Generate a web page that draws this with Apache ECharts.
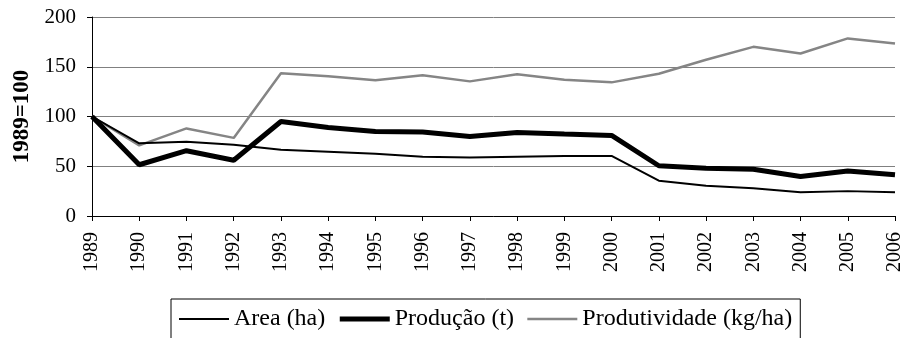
<!DOCTYPE html>
<html>
<head>
<meta charset="utf-8">
<script src="https://cdn.jsdelivr.net/npm/echarts@6/dist/echarts.min.js"></script>
<style>
  html, body { margin: 0; padding: 0; background: #fff; }
  #chart { width: 905px; height: 338px; }
</style>
</head>
<body>
<div id="chart"></div>
<script>
// Index series, base year 1989 = 100
const years = ['1989','1990','1991','1992','1993','1994','1995','1996','1997','1998',
               '1999','2000','2001','2002','2003','2004','2005','2006'];
const area = [100, 73, 74.5, 71.5, 66.5, 64.5, 62.5, 59.5, 58.8, 59.6, 60.4, 60.4, 35.5, 30.5, 28, 23.8, 25, 23.8];
const producao = [100, 51.5, 65.6, 56, 95, 89, 85, 84.5, 80, 84, 82.3, 81, 50.5, 48, 47, 39.7, 45.3, 41.5];
const produtividade = [100, 71, 88, 78.5, 143.5, 140.5, 136.5, 141.5, 135.3, 142.5, 137, 134.3, 143, 157, 170, 163.3, 178.5, 173.3];
const yTicks = [0, 50, 100, 150, 200];

const serif = '"Liberation Serif", "Times New Roman", serif';
const chart = echarts.init(document.getElementById('chart'));

chart.setOption({
  animation: false,
  backgroundColor: '#fff',
  grid: { left: 92, right: 10, top: 17, bottom: 122 },
  legend: {
    left: 171,
    top: 299,
    padding: [8, 8, 14, 7],
    borderColor: '#000',
    borderWidth: 1,
    itemWidth: 50,
    itemHeight: 12,
    itemGap: 12,
    itemStyle: { opacity: 0 },
    textStyle: { fontFamily: serif, fontSize: 24, color: '#000' },
    data: [
      { name: 'Area (ha)', lineStyle: { width: 2, color: '#000' } },
      { name: 'Produção (t)', lineStyle: { width: 5, color: '#000' } },
      { name: 'Produtividade (kg/ha)', lineStyle: { width: 2.5, color: '#858585' } }
    ]
  },
  xAxis: {
    type: 'category',
    data: years,
    boundaryGap: false,
    axisLine: { lineStyle: { color: '#000', width: 1 } },
    axisTick: { alignWithLabel: true, length: 5, lineStyle: { color: '#000' } },
    axisLabel: {
      rotate: 90,
      margin: 16,
      fontFamily: serif,
      fontSize: 20,
      color: '#000',
      interval: 0
    }
  },
  yAxis: {
    type: 'value',
    min: yTicks[0],
    max: yTicks[yTicks.length - 1],
    interval: 50,
    name: '1989=100',
    nameLocation: 'middle',
    nameGap: 58,
    nameTextStyle: { fontFamily: serif, fontSize: 23, fontWeight: 'bold', color: '#000' },
    axisLine: { show: true, lineStyle: { color: '#000', width: 1 } },
    axisTick: { show: true, length: 5, lineStyle: { color: '#000' } },
    axisLabel: { margin: 16, fontFamily: serif, fontSize: 21, color: '#000' },
    splitLine: { show: true, lineStyle: { color: '#808080', width: 1 } }
  },
  series: [
    {
      name: 'Area (ha)',
      type: 'line',
      data: area,
      symbol: 'none',
      lineStyle: { color: '#000', width: 2 },
      itemStyle: { color: '#000' },
      z: 3
    },
    {
      name: 'Produção (t)',
      type: 'line',
      data: producao,
      symbol: 'none',
      lineStyle: { color: '#000', width: 5 },
      itemStyle: { color: '#000' },
      z: 4
    },
    {
      name: 'Produtividade (kg/ha)',
      type: 'line',
      data: produtividade,
      symbol: 'none',
      lineStyle: { color: '#858585', width: 2.5 },
      itemStyle: { color: '#858585' },
      z: 2
    }
  ]
});
</script>
</body>
</html>
